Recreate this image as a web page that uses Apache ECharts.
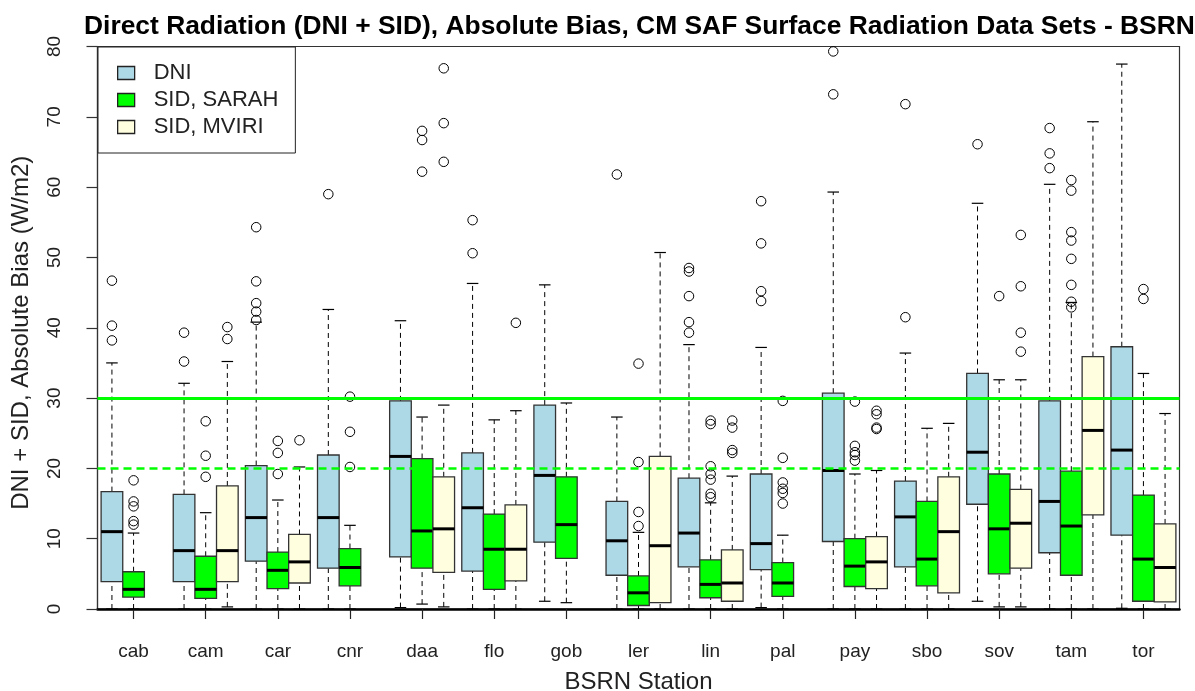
<!DOCTYPE html>
<html><head><meta charset="utf-8">
<script src="https://cdn.jsdelivr.net/npm/echarts@6/dist/echarts.min.js"></script>
<style>html,body{margin:0;padding:0;background:#fff}#chart{width:1195px;height:691px}</style>
</head><body><div id="chart"></div>
<script>
// ---- data ----
const stations = ['cab','cam','car','cnr','daa','flo','gob','ler','lin','pal','pay','sbo','sov','tam','tor'];
const seriesNames = ['DNI', 'SID, SARAH', 'SID, MVIRI'];
const yTicks = [0, 10, 20, 30, 40, 50, 60, 70, 80];
const refLevels = [30, 20];

// [lower whisker, Q1, median, Q3, upper whisker]
const dniStats = [
  [0, 3.9, 11.0, 16.7, 35.0], [0, 3.9, 8.3, 16.3, 32.1], [0, 6.8, 13.0, 20.4, 40.8],
  [0, 5.8, 13.0, 21.9, 42.6], [0.2, 7.4, 21.7, 29.6, 41.0], [0, 5.4, 14.4, 22.2, 46.3],
  [1.1, 9.5, 19.0, 29.0, 46.1], [0, 4.8, 9.7, 15.3, 27.3], [0, 6.0, 10.8, 18.6, 37.6],
  [0.2, 5.6, 9.3, 19.2, 37.2], [0, 9.6, 19.7, 30.7, 59.3], [0, 6.0, 13.1, 18.2, 36.4],
  [1.1, 14.9, 22.3, 33.5, 57.7], [0, 8.0, 15.3, 29.6, 60.4], [0.1, 10.5, 22.6, 37.3, 77.5]
];
const sarahStats = [
  [0, 1.7, 2.8, 5.3, 10.8], [0, 1.5, 2.8, 7.5, 13.7], [0, 2.9, 5.5, 8.1, 15.5],
  [0, 3.3, 5.9, 8.6, 11.9], [0.7, 5.8, 11.1, 21.4, 27.3], [0, 2.8, 8.5, 13.5, 26.9],
  [0.9, 7.2, 12.0, 18.8, 29.3], [0, 0.5, 2.3, 4.7, 10.9], [0, 1.6, 3.5, 7.0, 15.1],
  [0, 1.8, 3.7, 6.6, 10.5], [0, 3.2, 6.1, 10.0, 19.2], [0, 3.3, 7.1, 15.3, 25.7],
  [0.3, 5.0, 11.4, 19.2, 32.6], [0, 4.8, 11.8, 19.6, 43.6], [0, 1.1, 7.1, 16.2, 33.5]
];
const mviriStats = [
  null, [0.3, 3.9, 8.3, 17.5, 35.2], [0, 3.7, 6.7, 10.6, 20.2],
  null, [0.3, 5.2, 11.4, 18.8, 29.0], [0, 4.0, 8.5, 14.8, 28.2],
  null, [0, 0.9, 9.0, 21.7, 50.7], [0, 1.1, 3.7, 8.4, 18.9],
  null, [0, 2.9, 6.7, 10.3, 19.7], [0, 2.3, 11.0, 18.8, 26.4],
  [0.3, 5.8, 12.2, 17.0, 32.6], [0, 13.4, 25.4, 35.9, 69.3], [0, 1.0, 5.9, 12.1, 27.8]
];

const dniOutliers = [
  [46.7, 40.3, 38.2], [39.3, 35.2], [54.3, 46.6, 43.5, 42.3, 41.1], [59.0], [],
  [55.3, 50.6], [], [61.8], [48.5, 48.0, 44.5, 40.8, 39.3], [58.0, 52.0, 45.2, 43.8],
  [79.3, 73.2], [71.8, 41.5], [66.1], [68.4, 64.8, 62.7], []
];
const sarahOutliers = [
  [18.3, 15.3, 14.6, 12.5, 12.0], [26.7, 21.8, 18.8], [23.9, 22.2, 19.2], [30.2, 25.2, 20.2],
  [68.0, 66.7, 62.2], [], [], [34.9, 20.9, 13.8, 11.8],
  [26.8, 26.3, 20.3, 19.2, 18.4, 16.4, 15.9], [29.6, 21.5, 18.0, 17.1, 16.5, 15.0],
  [29.5, 23.2, 22.3, 21.9, 21.1], [], [44.5],
  [61.0, 59.5, 53.6, 52.4, 49.8, 46.1, 43.7, 42.9], [45.5, 44.1]
];
const mviriOutliers = [
  [], [40.1, 38.4], [24.0], [], [76.9, 69.1, 63.6], [40.7], [], [],
  [26.8, 25.8, 22.6, 22.2], [], [28.2, 27.7, 25.8, 25.6], [], [53.2, 45.9, 39.3, 36.6], [], []
];

// ---- presentation ----
const FONT = '"Liberation Sans", Arial, Helvetica, sans-serif';
const colors = ['#ADD8E6', '#00FF00', '#FFFFE0'];
const offsets = [-0.3, 0, 0.3];
const BOX_W = 0.3, CAP_W = 0.16;

function boxData(stats) {
  const out = [];
  stats.forEach((s, i) => { if (s) out.push([i, s[0], s[1], s[2], s[3], s[4]]); });
  return out;
}
function outlierData(list, offset) {
  const out = [];
  list.forEach((vals, i) => vals.forEach(v => out.push([i + offset, v])));
  return out;
}
function makeRenderer(offset, fill) {
  return function (params, api) {
    const x = api.value(0) + offset;
    const lo = api.value(1), q1 = api.value(2), med = api.value(3), q3 = api.value(4), hi = api.value(5);
    const px = v => api.coord([v, 0])[0];
    const py = v => api.coord([x, v])[1];
    const xc = px(x), xl = px(x - BOX_W / 2), xr = px(x + BOX_W / 2);
    const cl = px(x - CAP_W / 2), cr = px(x + CAP_W / 2);
    const dash = { stroke: '#000', lineWidth: 1, lineDash: [5, 4] };
    const solid = { stroke: '#000', lineWidth: 1.2 };
    return {
      type: 'group',
      children: [
        { type: 'line', shape: { x1: xc, y1: py(q3), x2: xc, y2: py(hi) }, style: dash },
        { type: 'line', shape: { x1: xc, y1: py(lo), x2: xc, y2: py(q1) }, style: dash },
        { type: 'line', shape: { x1: cl, y1: py(hi), x2: cr, y2: py(hi) }, style: solid },
        { type: 'line', shape: { x1: cl, y1: py(lo), x2: cr, y2: py(lo) }, style: solid },
        { type: 'rect', shape: { x: xl, y: py(q3), width: xr - xl, height: py(q1) - py(q3) },
          style: { fill: fill, stroke: '#333', lineWidth: 1.3 } },
        { type: 'line', shape: { x1: xl, y1: py(med), x2: xr, y2: py(med) }, style: { stroke: '#000', lineWidth: 3 } }
      ]
    };
  };
}

const allStats = [dniStats, sarahStats, mviriStats];
const allOutliers = [dniOutliers, sarahOutliers, mviriOutliers];
const series = [];
allStats.forEach((stats, k) => {
  series.push({
    name: seriesNames[k], type: 'custom', xAxisIndex: 1, yAxisIndex: 0,
    renderItem: makeRenderer(offsets[k], colors[k]),
    encode: { x: 0, y: [1, 2, 3, 4, 5] },
    itemStyle: { color: colors[k] },
    data: boxData(stats), z: 2
  });
});
allOutliers.forEach((list, k) => {
  series.push({
    name: seriesNames[k] + ' outliers', type: 'scatter', xAxisIndex: 1, yAxisIndex: 0,
    symbol: 'circle', symbolSize: 9.5,
    itemStyle: { color: 'rgba(0,0,0,0)', borderColor: '#000', borderWidth: 1, opacity: 1 },
    data: outlierData(list, offsets[k]), z: 3
  });
});
series.push({
  name: 'ref', type: 'line', xAxisIndex: 1, yAxisIndex: 0, data: [], z: 5,
  markLine: {
    silent: true, symbol: ['none', 'none'], label: { show: false }, animation: false,
    data: [
      { yAxis: refLevels[0], lineStyle: { color: '#00FF00', width: 3, type: 'solid' } },
      { yAxis: refLevels[1], lineStyle: { color: '#00FF00', width: 2.5, type: [8, 5] } }
    ]
  }
});

const chart = echarts.init(document.getElementById('chart'), null, { renderer: 'canvas' });
chart.setOption({
  animation: false,
  backgroundColor: '#fff',
  textStyle: { fontFamily: FONT },
  title: {
    text: 'Direct Radiation (DNI + SID), Absolute Bias, CM SAF Surface Radiation Data Sets - BSRN',
    left: 84, top: 14, padding: 0,
    textStyle: { fontFamily: FONT, fontWeight: 'bold', fontSize: 26.4, color: '#000' }
  },
  legend: {
    left: 98, top: 47, orient: 'vertical',
    padding: [15, 17, 15, 19], itemGap: 5, itemWidth: 17, itemHeight: 13,
    borderColor: '#222', borderWidth: 1, backgroundColor: '#fff',
    textStyle: { fontFamily: FONT, fontSize: 22, color: '#222', lineHeight: 22, padding: [0, 0, 0, 14] },
    data: seriesNames.map((n, k) => ({ name: n, icon: 'rect', itemStyle: { color: colors[k], borderColor: '#222', borderWidth: 1.3 } }))
  },
  grid: { left: 97.5, right: 15.5, top: 46.5, bottom: 82, show: true, borderColor: '#333', borderWidth: 1.2,
          containLabel: false, outerBoundsMode: 'none' },
  xAxis: [
    {
      type: 'category', data: stations, boundaryGap: true, gridIndex: 0,
      name: 'BSRN Station', nameLocation: 'middle', nameGap: 61,
      nameTextStyle: { fontFamily: FONT, fontSize: 24, color: '#222' },
      axisLine: { show: true, onZero: false, lineStyle: { color: '#000', width: 2.5 } },
      axisTick: { show: true, alignWithLabel: true, length: 10, lineStyle: { color: '#222', width: 1.2 } },
      axisLabel: { fontFamily: FONT, fontSize: 19, color: '#222', margin: 33 },
      splitLine: { show: false }
    },
    { type: 'value', min: -0.5, max: 14.5, show: false, gridIndex: 0 }
  ],
  yAxis: {
    type: 'value', min: yTicks[0], max: yTicks[yTicks.length - 1], interval: 10,
    position: 'left',
    name: 'DNI + SID, Absolute Bias (W/m2)', nameLocation: 'middle', nameGap: 64,
    nameTextStyle: { fontFamily: FONT, fontSize: 24, color: '#222', padding: [0, 10, 0, 0] },
    axisLine: { show: true, onZero: false, lineStyle: { color: '#333', width: 1.2 } },
    axisTick: { show: true, length: 11, lineStyle: { color: '#333', width: 1.2 } },
    axisLabel: { rotate: 90, fontFamily: FONT, fontSize: 19, color: '#222', margin: 33 },
    splitLine: { show: false }
  },
  series: series
});
</script>
</body></html>
